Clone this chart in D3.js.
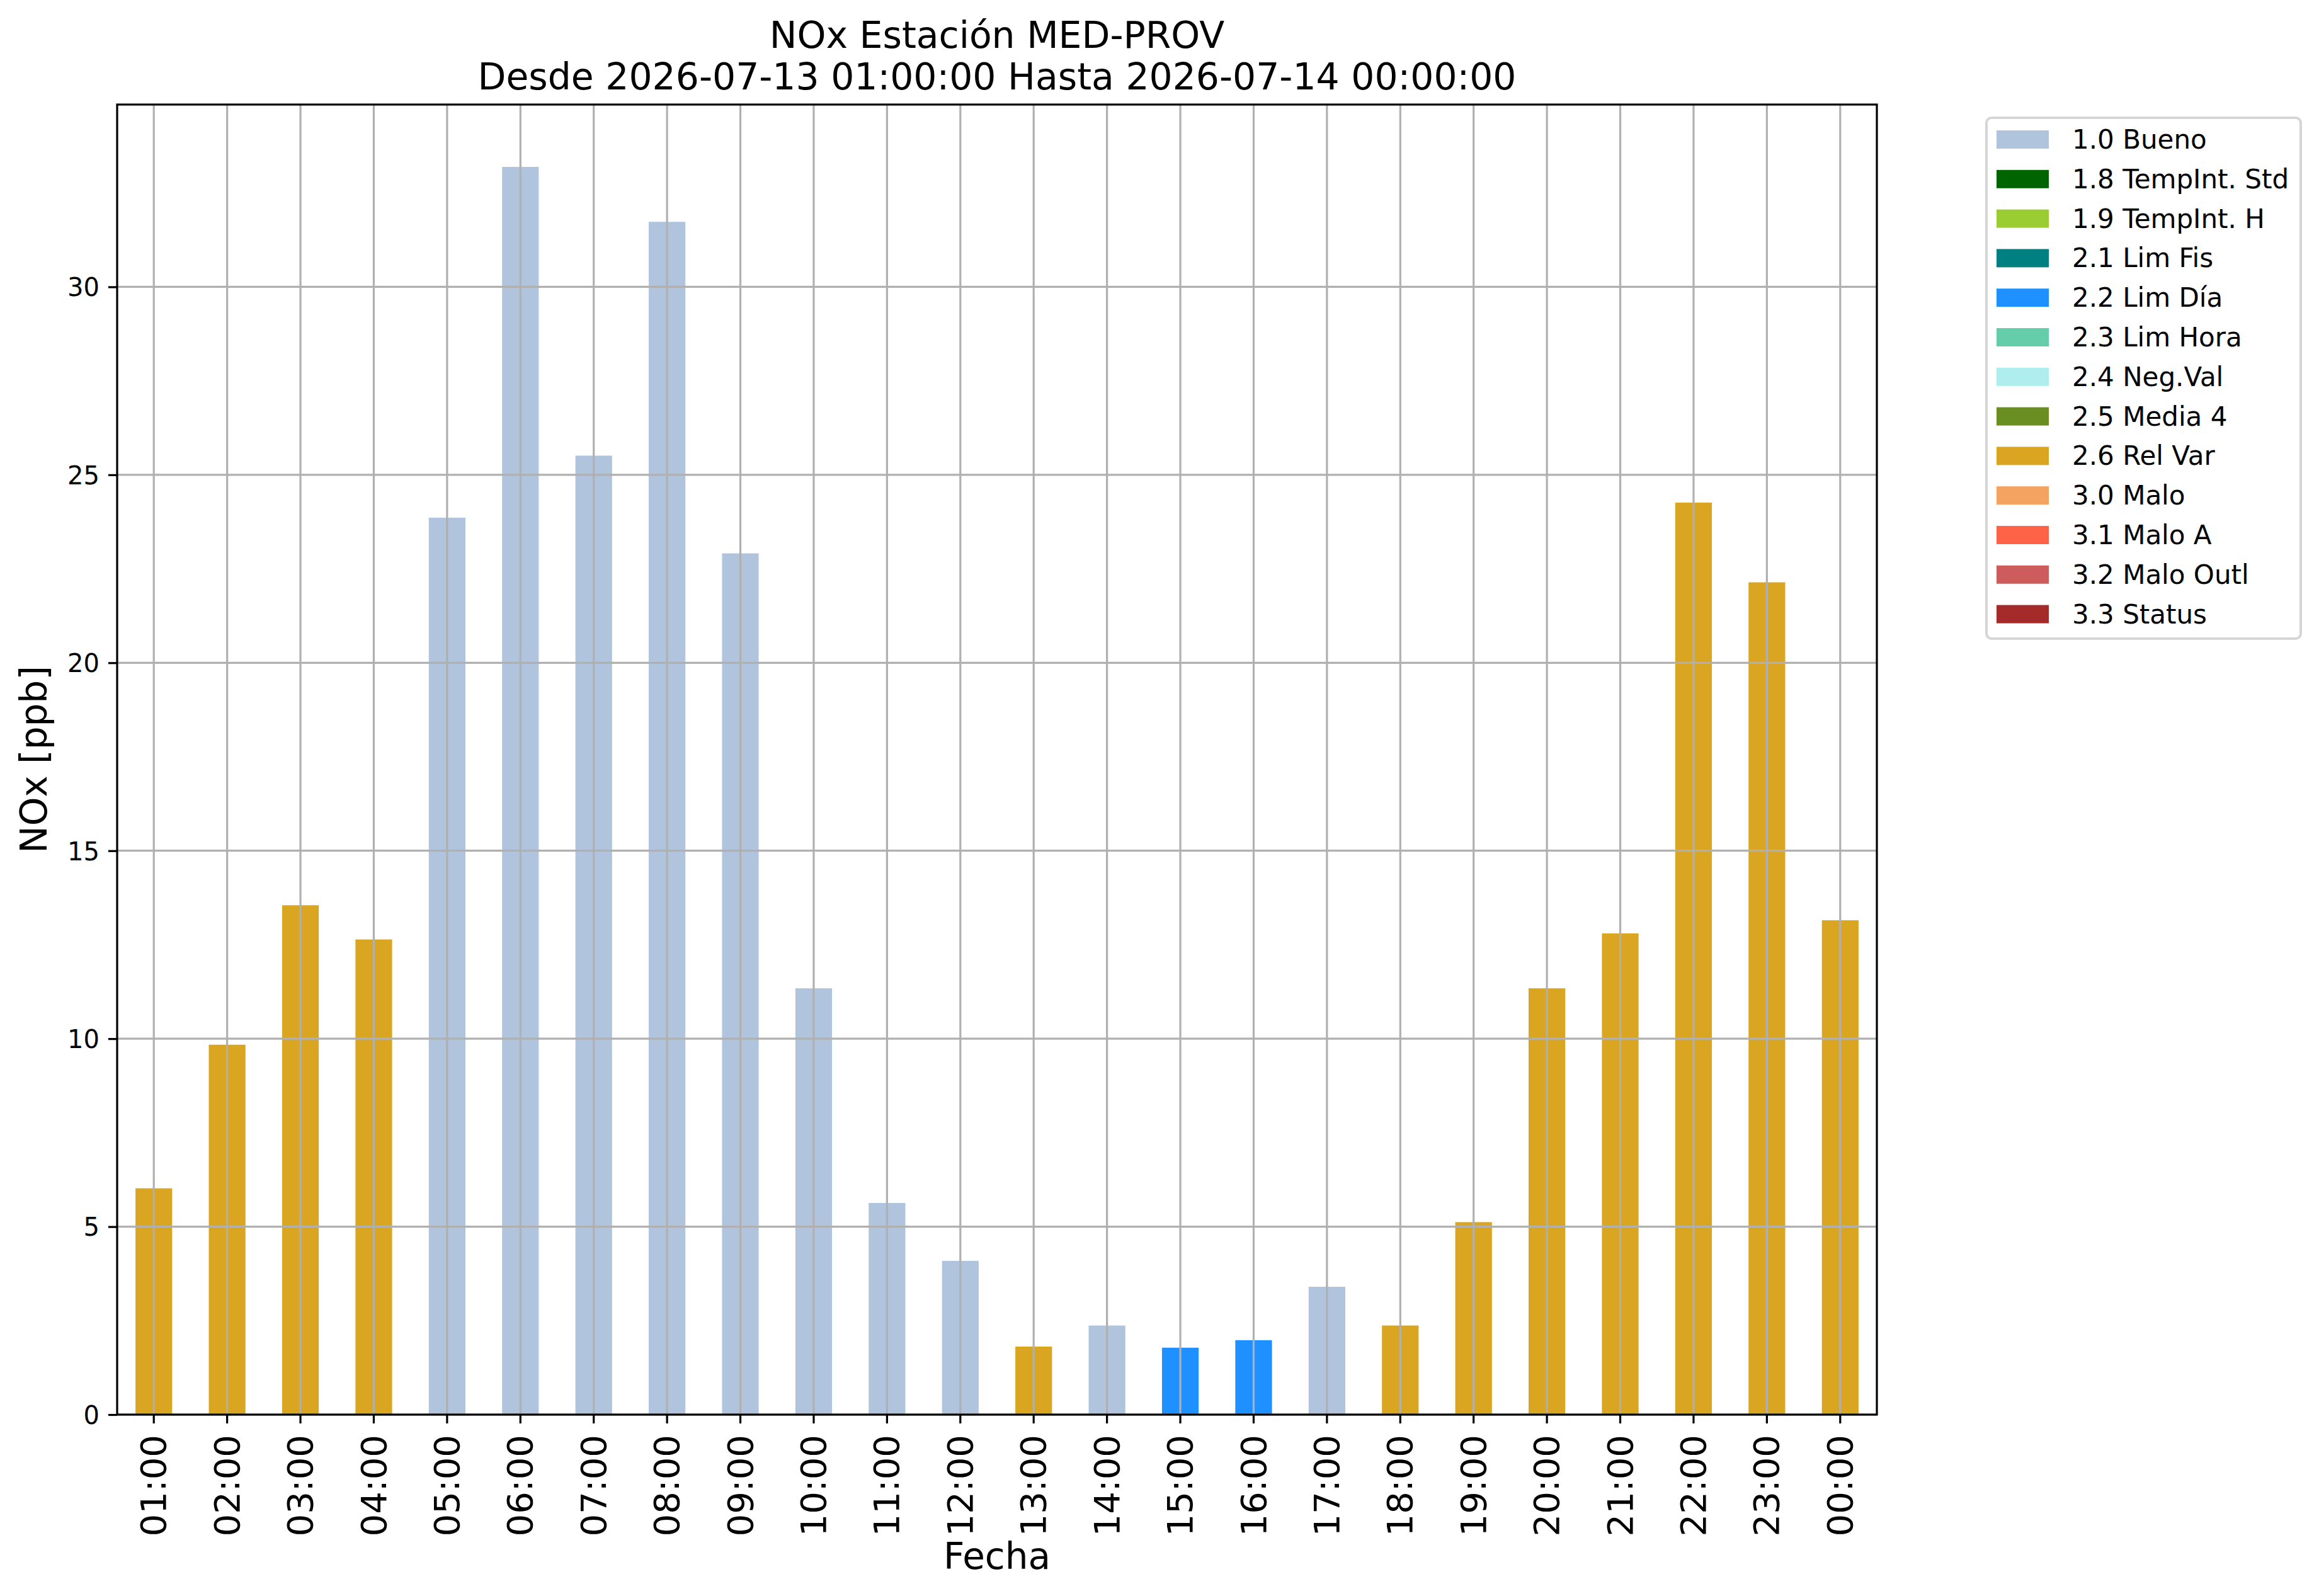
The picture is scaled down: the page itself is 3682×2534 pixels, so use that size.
<!DOCTYPE html>
<html>
<head>
<meta charset="utf-8">
<script src="https://cdn.jsdelivr.net/npm/d3@7"></script>
<style>
  body { margin: 0; background: #fff; }
  text { font-family: 'DejaVu Sans', sans-serif; fill: #000; }
</style>
</head>
<body>
<svg id="chart"></svg>
<script>
// hourly NOx, 2026-07-13 01:00 .. 2026-07-14 00:00
const hours = ['01:00', '02:00', '03:00', '04:00', '05:00', '06:00', '07:00', '08:00',
  '09:00', '10:00', '11:00', '12:00', '13:00', '14:00', '15:00', '16:00',
  '17:00', '18:00', '19:00', '20:00', '21:00', '22:00', '23:00', '00:00'];

const noxValues = [6.02, 9.84, 13.55, 12.64, 23.86, 33.19, 25.51, 31.73,
  22.91, 11.34, 5.63, 4.09, 1.81, 2.37, 1.78, 1.98,
  3.40, 2.37, 5.12, 11.34, 12.80, 24.26, 22.14, 13.15];

// validation flag of every hour
const noxFlags = ['2.6 Rel Var', '2.6 Rel Var', '2.6 Rel Var', '2.6 Rel Var',
  '1.0 Bueno', '1.0 Bueno', '1.0 Bueno', '1.0 Bueno',
  '1.0 Bueno', '1.0 Bueno', '1.0 Bueno', '1.0 Bueno',
  '2.6 Rel Var', '1.0 Bueno', '2.2 Lim Día', '2.2 Lim Día',
  '1.0 Bueno', '2.6 Rel Var', '2.6 Rel Var', '2.6 Rel Var',
  '2.6 Rel Var', '2.6 Rel Var', '2.6 Rel Var', '2.6 Rel Var'];

const flagNames = ['1.0 Bueno', '1.8 TempInt. Std', '1.9 TempInt. H', '2.1 Lim Fis',
  '2.2 Lim Día', '2.3 Lim Hora', '2.4 Neg.Val', '2.5 Media 4', '2.6 Rel Var',
  '3.0 Malo', '3.1 Malo A', '3.2 Malo Outl', '3.3 Status'];

const flagColors = ['#b0c4de', '#006400', '#9acd32', '#008080',
  '#1e90ff', '#66cdaa', '#afeeee', '#6b8e23', '#daa520',
  '#f4a460', '#ff6347', '#cd5c5c', '#a52a2a'];

const yTicks = [0, 5, 10, 15, 20, 25, 30];

const width = 3682;
const height = 2534;
const margin = { top: 166, right: 702, bottom: 288, left: 186 };
const innerW = width - margin.left - margin.right;
const innerH = height - margin.top - margin.bottom;

const svg = d3.select('#chart')
  .attr('width', width)
  .attr('height', height);

svg.append('rect')
  .attr('width', width)
  .attr('height', height)
  .attr('fill', '#fff');

const color = d3.scaleOrdinal().domain(flagNames).range(flagColors);

const x = d3.scaleBand()
  .domain(hours)
  .range([0, innerW])
  .paddingInner(0.5)
  .paddingOuter(0.25);

const yMax = d3.max(noxValues) * 1.05;
const y = d3.scaleLinear()
  .domain([0, yMax])
  .range([innerH, 0]);

const g = svg.append('g')
  .attr('transform', `translate(${margin.left},${margin.top})`);

// bars
g.append('g').attr('class', 'bars')
  .selectAll('rect')
  .data(hours)
  .enter().append('rect')
  .attr('x', (d) => x(d))
  .attr('y', (d, i) => y(noxValues[i]))
  .attr('width', x.bandwidth())
  .attr('height', (d, i) => y(0) - y(noxValues[i]))
  .attr('fill', (d, i) => color(noxFlags[i]));

// grid is drawn over the bars
const grid = g.append('g').attr('class', 'grid');

grid.selectAll('.vgrid')
  .data(hours)
  .enter().append('line')
  .attr('class', 'vgrid')
  .attr('x1', (d) => x(d) + x.bandwidth() / 2)
  .attr('x2', (d) => x(d) + x.bandwidth() / 2)
  .attr('y1', 0)
  .attr('y2', innerH)
  .attr('stroke', '#b0b0b0')
  .attr('stroke-width', 3.2);

grid.selectAll('.hgrid')
  .data(yTicks)
  .enter().append('line')
  .attr('class', 'hgrid')
  .attr('x1', 0)
  .attr('x2', innerW)
  .attr('y1', (d) => y(d))
  .attr('y2', (d) => y(d))
  .attr('stroke', '#b0b0b0')
  .attr('stroke-width', 3.2);

// axes
const xAxis = g.append('g')
  .attr('transform', `translate(0,${innerH})`)
  .call(d3.axisBottom(x).tickSize(14).tickPadding(18));

xAxis.select('.domain').remove();
xAxis.selectAll('.tick line').attr('stroke', '#000').attr('stroke-width', 3.2);
xAxis.selectAll('.tick text')
  .attr('font-family', "'DejaVu Sans', sans-serif")
  .attr('font-size', 56)
  .attr('text-anchor', 'end')
  .attr('transform', 'rotate(-90)')
  .attr('x', -32)
  .attr('y', 0)
  .attr('dy', '0.34em');

const yAxis = g.append('g')
  .call(d3.axisLeft(y).tickValues(yTicks).tickSize(14).tickPadding(14));

yAxis.select('.domain').remove();
yAxis.selectAll('.tick line').attr('stroke', '#000').attr('stroke-width', 3.2);
yAxis.selectAll('.tick text')
  .attr('font-family', "'DejaVu Sans', sans-serif")
  .attr('font-size', 40)
  .attr('dy', '0.36em');

// frame
g.append('rect')
  .attr('width', innerW)
  .attr('height', innerH)
  .attr('fill', 'none')
  .attr('stroke', '#000')
  .attr('stroke-width', 3.2);

// titles
const cx = margin.left + innerW / 2;
svg.append('text')
  .attr('x', cx).attr('y', 76)
  .attr('text-anchor', 'middle')
  .attr('font-size', 58.4)
  .text('NOx Estación MED-PROV');
svg.append('text')
  .attr('x', cx).attr('y', 142)
  .attr('text-anchor', 'middle')
  .attr('font-size', 58.4)
  .text('Desde 2026-07-13 01:00:00 Hasta 2026-07-14 00:00:00');

svg.append('text')
  .attr('x', cx).attr('y', 2491)
  .attr('text-anchor', 'middle')
  .attr('font-size', 58)
  .text('Fecha');

svg.append('text')
  .attr('transform', `translate(74,${margin.top + innerH / 2}) rotate(-90)`)
  .attr('text-anchor', 'middle')
  .attr('font-size', 58)
  .text('NOx [ppb]');

// legend
const legend = svg.append('g').attr('class', 'legend');
const legX = 3154;
const legY = 187;
const rowH = 62.8;

legend.append('rect')
  .attr('x', legX).attr('y', legY)
  .attr('width', 499).attr('height', 827)
  .attr('rx', 8).attr('ry', 8)
  .attr('fill', '#fff')
  .attr('fill-opacity', 0.8)
  .attr('stroke', '#d6d6d6')
  .attr('stroke-width', 4);

const rows = legend.selectAll('.row')
  .data(flagNames)
  .enter().append('g')
  .attr('class', 'row')
  .attr('transform', (d, i) => `translate(${legX},${221 + i * rowH})`);

rows.append('rect')
  .attr('x', 16).attr('y', -14)
  .attr('width', 83).attr('height', 29)
  .attr('fill', (d) => color(d));

rows.append('text')
  .attr('x', 136).attr('y', 15)
  .attr('font-size', 42)
  .text((d) => d);
</script>
</body>
</html>
